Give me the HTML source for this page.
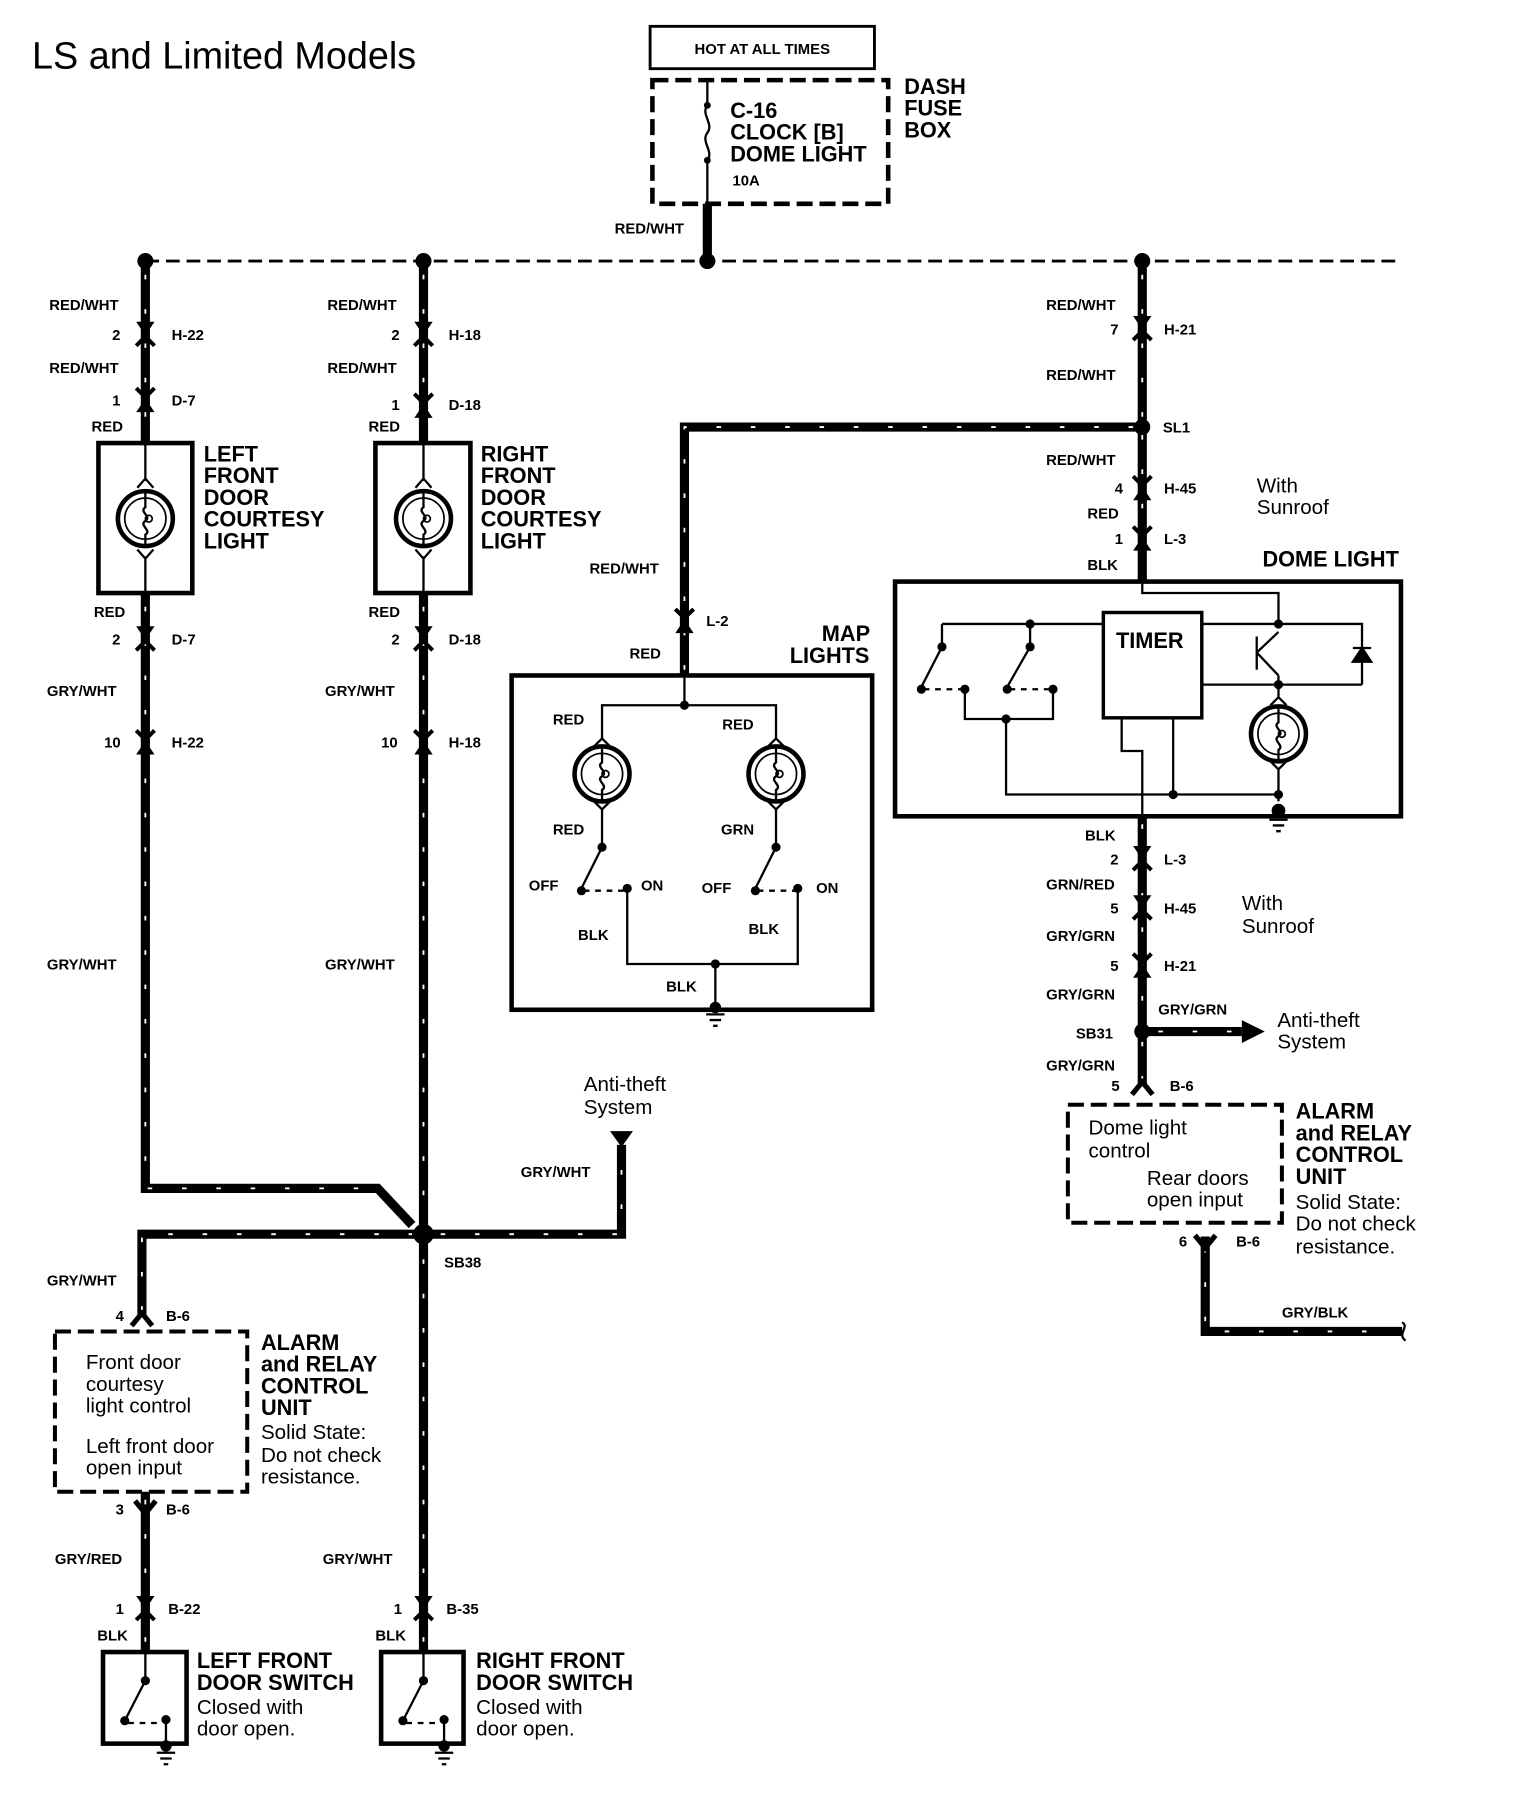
<!DOCTYPE html>
<html><head><meta charset="utf-8"><style>
html,body{margin:0;padding:0;background:#fff}
svg{display:block}
text{font-family:"Liberation Sans",Arial,sans-serif;fill:#000}
.b{font-weight:bold}
.s{font-size:13px;font-weight:bold}
.m{font-size:19px;font-weight:bold}
.r{font-size:18px}
</style></head><body>
<svg width="1536" height="1794" viewBox="0 0 1342 1567" preserveAspectRatio="none" xmlns="http://www.w3.org/2000/svg">
<defs>
<g id="cd"><path d="M-8,-11 L8,-11 L0,1 Z" fill="#000"/><path d="M-8,10 L0,2 L8,10" fill="none" stroke="#000" stroke-width="3.5"/></g>
<g id="cu"><path d="M-8,-10 L0,-2 L8,-10" fill="none" stroke="#000" stroke-width="3.5"/><path d="M-8,11 L8,11 L0,-1 Z" fill="#000"/></g>
<g id="lamp"><circle r="24" fill="none" stroke="#000" stroke-width="4"/><circle r="18" fill="none" stroke="#000" stroke-width="1.5"/><path d="M0,-24 L0,-10 C-6,-6 6,-2 0,2 C-6,6 6,10 0,14 L0,24" fill="none" stroke="#000" stroke-width="2"/><circle cx="3" r="3" fill="none" stroke="#000" stroke-width="1.5"/></g>
<g id="gnd"><path d="M-8,0 L8,0 M-5,5 L5,5 M-2,10 L2,10" stroke="#000" stroke-width="2"/></g>
</defs>

<text x="28" y="60" font-size="33">LS and Limited Models</text>

<rect x="568" y="23" width="196" height="37" fill="none" stroke="#000" stroke-width="2.5"/>
<text x="666" y="47" class="s" text-anchor="middle">HOT AT ALL TIMES</text>
<rect x="570" y="70" width="206" height="108" fill="none" stroke="#000" stroke-width="4" stroke-dasharray="14,6"/>
<path d="M618,70 L618,92 C612,100 624,108 618,116 C612,124 624,132 618,140 L618,178" fill="none" stroke="#000" stroke-width="2"/>
<circle cx="618" cy="92" r="3"/><circle cx="618" cy="140" r="3"/>
<text x="638" y="103" class="m">C-16</text>
<text x="638" y="122" class="m">CLOCK [B]</text>
<text x="638" y="141" class="m">DOME LIGHT</text>
<text x="640" y="162" class="s" font-size="12">10A</text>
<text x="790" y="82" class="m">DASH</text>
<text x="790" y="101" class="m">FUSE</text>
<text x="790" y="120" class="m">BOX</text>
<text x="537" y="204" class="s">RED/WHT</text>

<line x1="127" y1="228" x2="1225" y2="228" stroke="#000" stroke-width="2.5" stroke-dasharray="12,6"/>

<g fill="none" stroke="#000" stroke-width="8">
<path d="M618,178 V228"/>
<path d="M127,228 V387"/><path d="M370,228 V387"/>
<path d="M127,518 V1038 H330 L360,1070"/>
<path d="M370,518 V1443"/>
<path d="M124,1150 V1078 H543 V1000"/>
<path d="M127,1303 V1443"/>
<path d="M998,228 V508"/>
<path d="M998,373 H598 V590"/>
<path d="M998,713 V948"/>
<path d="M998,901 H1085"/>
<path d="M1053,1080 V1163 H1225"/>
</g>
<g fill="none" stroke="#fff" stroke-width="1.6" stroke-dasharray="4,26">
<path d="M127,240 V380"/><path d="M370,240 V380"/>
<path d="M127,530 V1038 H330"/>
<path d="M370,530 V1440"/>
<path d="M124,1145 V1078 H360 M385,1078 H543 V1000"/>
<path d="M127,1310 V1440"/>
<path d="M998,240 V365 M990,373 H598 V585"/>
<path d="M998,380 V500 M998,720 V890 M998,910 V945"/>
<path d="M1012,901 H1080"/>
<path d="M1053,1090 V1163 H1220"/>
</g>
<path d="M1085,891 L1105,901 L1085,911 Z"/>
<path d="M533,988 L553,988 L543,1002 Z"/>
<path d="M1225,1155 C1232,1159 1220,1165 1228,1171" fill="none" stroke="#000" stroke-width="2"/>

<circle cx="127" cy="228" r="7"/><circle cx="370" cy="228" r="7"/><circle cx="618" cy="228" r="7"/><circle cx="998" cy="228" r="7"/>
<circle cx="998" cy="373" r="7"/><circle cx="370" cy="1078" r="9"/><circle cx="998" cy="901" r="7"/>

<use href="#cd" x="127" y="292"/><use href="#cu" x="127" y="349"/>
<use href="#cd" x="370" y="292"/><use href="#cu" x="370" y="354"/>
<use href="#cd" x="127" y="558"/><use href="#cu" x="127" y="648"/>
<use href="#cd" x="370" y="558"/><use href="#cu" x="370" y="648"/>
<use href="#cd" x="998" y="287"/><use href="#cu" x="998" y="426"/><use href="#cu" x="998" y="470"/>
<use href="#cu" x="598" y="542"/>
<use href="#cd" x="998" y="750"/><use href="#cd" x="998" y="793"/><use href="#cu" x="998" y="843"/>
<path d="M989,956 L998,945 L1007,956" fill="none" stroke="#000" stroke-width="4.5"/>
<path d="M1044,1079 L1053,1090 L1062,1079" fill="none" stroke="#000" stroke-width="4.5"/>
<path d="M115,1158 L124,1147 L133,1158" fill="none" stroke="#000" stroke-width="4.5"/>
<path d="M118,1311 L127,1322 L136,1311" fill="none" stroke="#000" stroke-width="4.5"/>
<use href="#cd" x="127" y="1405"/><use href="#cd" x="370" y="1405"/>

<g class="s">
<text x="43" y="271">RED/WHT</text><text x="98" y="297">2</text><text x="150" y="297">H-22</text>
<text x="43" y="326">RED/WHT</text><text x="98" y="354">1</text><text x="150" y="354">D-7</text>
<text x="80" y="377">RED</text>
<text x="82" y="539">RED</text><text x="98" y="563">2</text><text x="150" y="563">D-7</text>
<text x="41" y="608">GRY/WHT</text><text x="91" y="653">10</text><text x="150" y="653">H-22</text>
<text x="41" y="847">GRY/WHT</text>
<text x="286" y="271">RED/WHT</text><text x="342" y="297">2</text><text x="392" y="297">H-18</text>
<text x="286" y="326">RED/WHT</text><text x="342" y="358">1</text><text x="392" y="358">D-18</text>
<text x="322" y="377">RED</text>
<text x="322" y="539">RED</text><text x="342" y="563">2</text><text x="392" y="563">D-18</text>
<text x="284" y="608">GRY/WHT</text><text x="333" y="653">10</text><text x="392" y="653">H-18</text>
<text x="284" y="847">GRY/WHT</text>
<text x="455" y="1028">GRY/WHT</text><text x="388" y="1107">SB38</text>
<text x="41" y="1123">GRY/WHT</text><text x="101" y="1154">4</text><text x="145" y="1154">B-6</text>
<text x="101" y="1323">3</text><text x="145" y="1323">B-6</text>
<text x="48" y="1366">GRY/RED</text><text x="282" y="1366">GRY/WHT</text>
<text x="101" y="1410">1</text><text x="147" y="1410">B-22</text>
<text x="344" y="1410">1</text><text x="390" y="1410">B-35</text>
<text x="85" y="1433">BLK</text><text x="328" y="1433">BLK</text>
<text x="914" y="271">RED/WHT</text><text x="970" y="292">7</text><text x="1017" y="292">H-21</text>
<text x="914" y="332">RED/WHT</text><text x="1016" y="378">SL1</text>
<text x="914" y="406">RED/WHT</text><text x="974" y="431">4</text><text x="1017" y="431">H-45</text>
<text x="950" y="453">RED</text><text x="974" y="475">1</text><text x="1017" y="475">L-3</text>
<text x="950" y="498">BLK</text>
<text x="515" y="501">RED/WHT</text><text x="617" y="547">L-2</text><text x="550" y="575">RED</text>
<text x="948" y="734">BLK</text><text x="970" y="755">2</text><text x="1017" y="755">L-3</text>
<text x="914" y="777">GRN/RED</text><text x="970" y="798">5</text><text x="1017" y="798">H-45</text>
<text x="914" y="822">GRY/GRN</text><text x="970" y="848">5</text><text x="1017" y="848">H-21</text>
<text x="914" y="873">GRY/GRN</text><text x="1012" y="886">GRY/GRN</text>
<text x="940" y="907">SB31</text>
<text x="914" y="935">GRY/GRN</text><text x="971" y="953">5</text><text x="1022" y="953">B-6</text>
<text x="1030" y="1089">6</text><text x="1080" y="1089">B-6</text>
<text x="1120" y="1151">GRY/BLK</text>
</g>

<rect x="86" y="387" width="82" height="131" fill="none" stroke="#000" stroke-width="4"/>
<path d="M127,387 V420 M120,426 L127,418 L134,426 M120,480 L127,488 L134,480 M127,486 V518" fill="none" stroke="#000" stroke-width="2"/>
<use href="#lamp" x="127" y="453"/>
<rect x="328" y="387" width="83" height="131" fill="none" stroke="#000" stroke-width="4"/>
<path d="M370,387 V420 M363,426 L370,418 L377,426 M363,480 L370,488 L377,480 M370,486 V518" fill="none" stroke="#000" stroke-width="2"/>
<use href="#lamp" x="370" y="453"/>
<g class="m">
<text x="178" y="403">LEFT</text><text x="178" y="422">FRONT</text><text x="178" y="441">DOOR</text><text x="178" y="460">COURTESY</text><text x="178" y="479">LIGHT</text>
<text x="420" y="403">RIGHT</text><text x="420" y="422">FRONT</text><text x="420" y="441">DOOR</text><text x="420" y="460">COURTESY</text><text x="420" y="479">LIGHT</text>
</g>

<rect x="447" y="590" width="315" height="292" fill="none" stroke="#000" stroke-width="4"/>
<g fill="none" stroke="#000" stroke-width="2">
<path d="M598,590 V616 M526,646 V616 H678 V646"/>
<path d="M519,652 L526,645 L533,652 M519,700 L526,707 L533,700 M526,706 V740 L508,776 M548,775 V842 H697 V775 M678,706 V740 L660,776 M671,652 L678,645 L685,652 M671,700 L678,707 L685,700"/>
<path d="M625,842 V878"/>
<path d="M510,778 H545 M662,778 H695" stroke-dasharray="5,5"/>
</g>
<use href="#lamp" x="526" y="676"/><use href="#lamp" x="678" y="676"/>
<circle cx="598" cy="616" r="4"/><circle cx="526" cy="740" r="4"/><circle cx="678" cy="740" r="4"/>
<circle cx="508" cy="778" r="4"/><circle cx="548" cy="776" r="4"/><circle cx="660" cy="778" r="4"/><circle cx="697" cy="776" r="4"/>
<circle cx="625" cy="842" r="4"/><circle cx="625" cy="880" r="5"/>
<use href="#gnd" x="625" y="886"/>
<g class="s">
<text x="483" y="633">RED</text><text x="631" y="637">RED</text>
<text x="483" y="729">RED</text><text x="630" y="729">GRN</text>
<text x="462" y="778">OFF</text><text x="560" y="778">ON</text><text x="613" y="780">OFF</text><text x="713" y="780">ON</text>
<text x="505" y="821">BLK</text><text x="654" y="816">BLK</text><text x="582" y="866">BLK</text>
</g>
<text x="718" y="560" class="m">MAP</text><text x="690" y="579" class="m">LIGHTS</text>

<rect x="782" y="508" width="442" height="205" fill="none" stroke="#000" stroke-width="4"/>
<rect x="964" y="535" width="86" height="92" fill="none" stroke="#000" stroke-width="3"/>
<text x="975" y="566" class="m">TIMER</text>
<g fill="none" stroke="#000" stroke-width="2">
<path d="M998,508 V518 H1117 V545 M823,545 H964 M1050,545 H1190 V598 M1050,598 H1190 M823,545 V565 L805,600 M900,545 V565 L880,600"/>
<path d="M843,601 V628 H920 V601 M879,628 V694 H1117 M980,627 V656 H998 V713 M1025,627 V694"/>
<path d="M1098,556 V585 M1098,570 L1117,552 M1098,570 L1117,590 M1117,590 V610 M1110,616 L1117,609 L1124,616 M1110,665 L1117,672 L1124,665 M1117,671 V700"/>
<path d="M807,602 H840 M882,602 H918" stroke-dasharray="5,5"/>
</g>
<path d="M1182,578 L1198,578 L1190,566 Z M1182,566 H1198" stroke="#000" stroke-width="2"/>
<use href="#lamp" x="1117" y="641"/>
<g>
<circle cx="823" cy="565" r="4"/><circle cx="900" cy="545" r="4"/><circle cx="900" cy="565" r="4"/><circle cx="805" cy="602" r="4"/><circle cx="843" cy="602" r="4"/><circle cx="880" cy="602" r="4"/><circle cx="920" cy="602" r="4"/><circle cx="879" cy="628" r="4"/>
<circle cx="1117" cy="545" r="4"/><circle cx="1117" cy="598" r="4"/><circle cx="1025" cy="694" r="4"/><circle cx="1117" cy="694" r="4"/><circle cx="1117" cy="708" r="6"/>
</g>
<use href="#gnd" x="1117" y="716"/>
<text x="1103" y="495" class="m">DOME LIGHT</text>
<text x="1098" y="430" class="r">With</text><text x="1098" y="449" class="r">Sunroof</text>
<text x="1085" y="795" class="r">With</text><text x="1085" y="815" class="r">Sunroof</text>
<text x="1116" y="897" class="r">Anti-theft</text><text x="1116" y="916" class="r">System</text>
<text x="510" y="953" class="r">Anti-theft</text><text x="510" y="973" class="r">System</text>

<rect x="48" y="1163" width="168" height="140" fill="none" stroke="#000" stroke-width="3.5" stroke-dasharray="14,6"/>
<g class="r">
<text x="75" y="1196">Front door</text><text x="75" y="1215">courtesy</text><text x="75" y="1234">light control</text>
<text x="75" y="1269">Left front door</text><text x="75" y="1288">open input</text>
<text x="228" y="1257">Solid State:</text><text x="228" y="1277">Do not check</text><text x="228" y="1296">resistance.</text>
</g>
<g class="m"><text x="228" y="1179">ALARM</text><text x="228" y="1198">and RELAY</text><text x="228" y="1217">CONTROL</text><text x="228" y="1236">UNIT</text></g>
<rect x="933" y="965" width="187" height="103" fill="none" stroke="#000" stroke-width="3.5" stroke-dasharray="14,6"/>
<g class="r">
<text x="951" y="991">Dome light</text><text x="951" y="1011">control</text>
<text x="1002" y="1035">Rear doors</text><text x="1002" y="1054">open input</text>
<text x="1132" y="1056">Solid State:</text><text x="1132" y="1075">Do not check</text><text x="1132" y="1095">resistance.</text>
</g>
<g class="m"><text x="1132" y="977">ALARM</text><text x="1132" y="996">and RELAY</text><text x="1132" y="1015">CONTROL</text><text x="1132" y="1034">UNIT</text></g>

<rect x="90" y="1443" width="73" height="80" fill="none" stroke="#000" stroke-width="4"/>
<rect x="333" y="1443" width="72" height="80" fill="none" stroke="#000" stroke-width="4"/>
<g fill="none" stroke="#000" stroke-width="2">
<path d="M127,1443 V1468 L109,1503 M145,1502 V1528"/>
<path d="M370,1443 V1468 L352,1503 M388,1502 V1528"/>
<path d="M112,1505 H142 M355,1505 H385" stroke-dasharray="5,5"/>
</g>
<circle cx="127" cy="1468" r="4"/><circle cx="109" cy="1503" r="4"/><circle cx="145" cy="1502" r="4"/><circle cx="145" cy="1525" r="5"/>
<circle cx="370" cy="1468" r="4"/><circle cx="352" cy="1503" r="4"/><circle cx="388" cy="1502" r="4"/><circle cx="388" cy="1525" r="5"/>
<use href="#gnd" x="145" y="1531"/><use href="#gnd" x="388" y="1531"/>
<g class="m"><text x="172" y="1457">LEFT FRONT</text><text x="172" y="1476">DOOR SWITCH</text><text x="416" y="1457">RIGHT FRONT</text><text x="416" y="1476">DOOR SWITCH</text></g>
<g class="r"><text x="172" y="1497">Closed with</text><text x="172" y="1516">door open.</text><text x="416" y="1497">Closed with</text><text x="416" y="1516">door open.</text></g>
</svg>
</body></html>
